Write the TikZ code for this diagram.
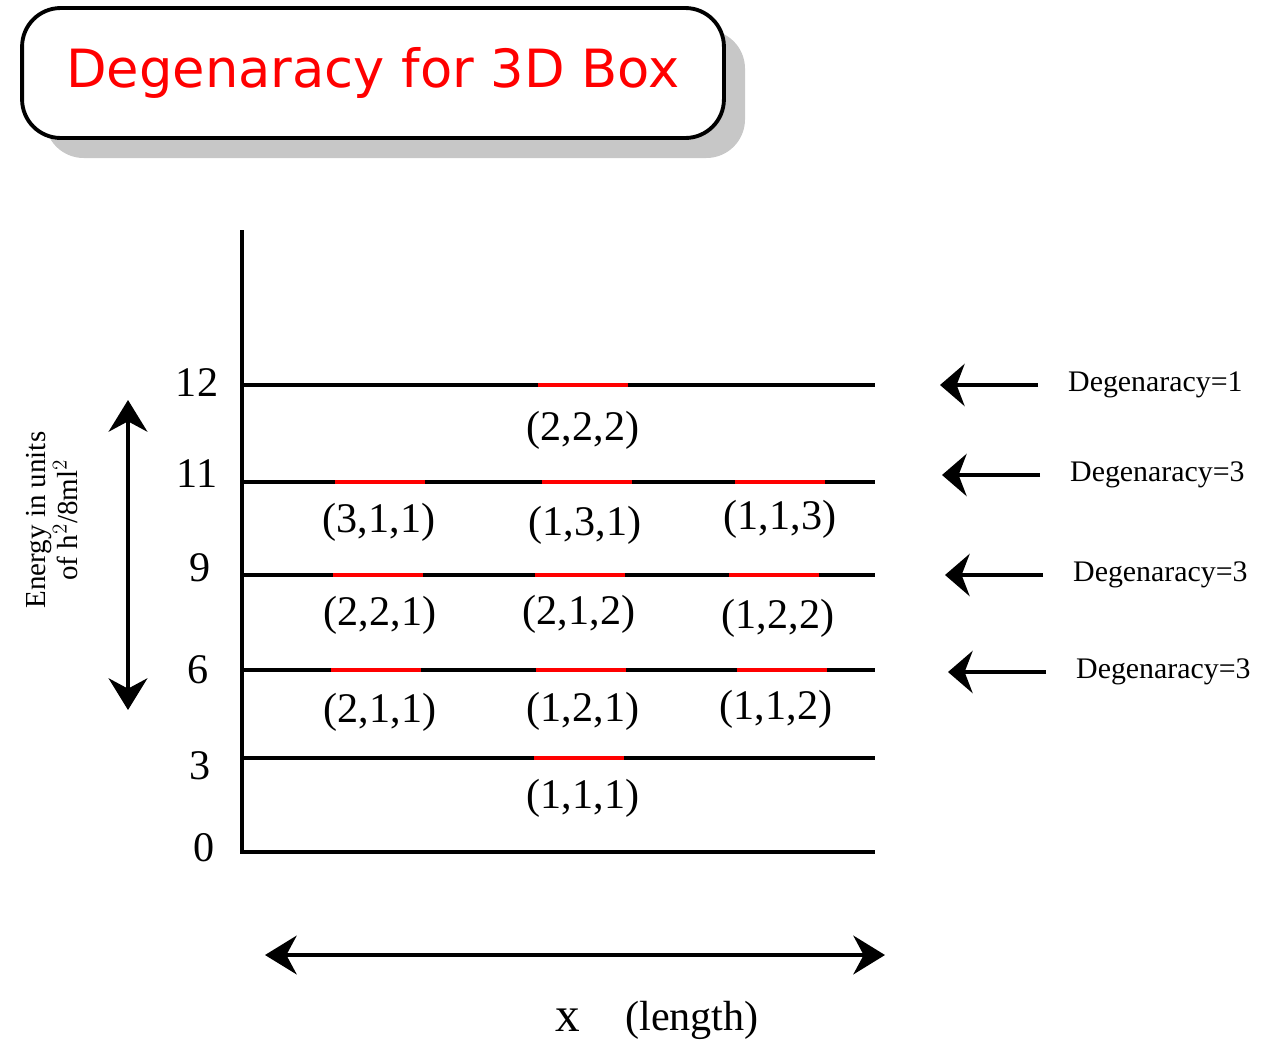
\documentclass[tikz,border=0pt]{standalone}
\usepackage{fontspec}
\setmainfont{Liberation Serif}
\newfontfamily\titlefont{DejaVu Sans}
\usetikzlibrary{arrows.meta,positioning}

\tikzset{
  level/.style={line width=2.2pt},
  redpart/.style={line width=2.8pt,red},
  state/.style={font=\fontsize{24}{26}\selectfont},
  valuelbl/.style={font=\fontsize{24}{26}\selectfont},
  deglbl/.style={font=\fontsize{17}{19}\selectfont,anchor=west},
  bigarrow/.style={line width=2.4pt,{Stealth[length=18pt,width=22pt]}-{Stealth[length=18pt,width=22pt]}},
  degarrow/.style={line width=2.4pt,-{Stealth[length=14pt,width=24pt]}}
}

\begin{document}
\begin{tikzpicture}[x=0.02cm,y=-0.02cm]
\useasboundingbox (0,0) rectangle (1280,1062);

% title
\fill[black!22,rounded corners=22pt] (45,30) rectangle (745,158);
\node[draw,line width=2.2pt,fill=white,rounded corners=22pt,minimum width=14.04cm,minimum height=2.6cm,
  text=red,font=\titlefont\fontsize{30}{34}\selectfont] (title) at (373,73) {Degenaracy for 3D Box};

% axes
\coordinate (top) at (242,230);
\coordinate (origin) at (242,852);
\coordinate (xend) at (875,852);
\draw[level] (top) -- (origin) -- (xend);

% levels
\foreach \y/\v in {385/12,482/11,575/9,670/6,758/3}{
  \coordinate (l\v) at (242,\y);
  \coordinate (r\v) at (875,\y);
  \draw[level] (l\v) -- (r\v);
}
\foreach \a/\b/\y in {538/628/385, 335/425/482, 542/632/482, 735/825/482,
  333/423/575, 535/625/575, 729/819/575, 331/421/670, 536/626/670, 737/827/670, 534/624/758}
  \draw[redpart] (\a,\y) -- (\b,\y);

% value labels
\node[valuelbl] (v12) at (197,383) {12};
\node[valuelbl] (v11) at (197,474) {11};
\node[valuelbl] (v9) at (200,568) {9};
\node[valuelbl] (v6) at (198,670) {6};
\node[valuelbl] (v3) at (200,766) {3};
\node[valuelbl] (v0) at (204,848) {0};

% states
\node[state] (s222) at (583,430) {(2,2,2)};
\node[state] (s311) at (379,522) {(3,1,1)};
\node[state] (s131) at (585,525) {(1,3,1)};
\node[state] (s113) at (780,519) {(1,1,3)};
\node[state] (s221) at (380,615) {(2,2,1)};
\node[state] (s212) at (579,614) {(2,1,2)};
\node[state] (s122) at (778,618) {(1,2,2)};
\node[state] (s211) at (380,712) {(2,1,1)};
\node[state] (s121) at (583,711) {(1,2,1)};
\node[state] (s112) at (776,709) {(1,1,2)};
\node[state] (s111) at (583,798) {(1,1,1)};

% energy axis
\coordinate (eup) at (128,400);
\coordinate (edown) at (128,710);
\draw[bigarrow] (eup) -- (edown);
\node[rotate=90,align=center,font=\fontsize{16.5}{18.5}\selectfont] (elbl) at (52,520)
  {Energy in units\\of h$^2$/8ml$^2$};

% length axis
\coordinate (xleft) at (265,955);
\coordinate (xright) at (885,955);
\draw[bigarrow] (xleft) -- (xright);
\node[font=\fontsize{28}{30}\selectfont] (xlbl) at (568,1020) {x};
\node[font=\fontsize{24}{26}\selectfont] (lenlbl) at (692,1020) {(length)};

% degeneracy
\foreach \y/\d/\s in {385/1/0, 475/3/2, 575/3/5, 672/3/8}{
  \node[deglbl] (d\y) at (1062+\s,\y) {Degenaracy=\d};
  \coordinate (as\y) at (1038+\s,\y);
  \coordinate (ae\y) at (940+\s,\y);
  \draw[degarrow] (as\y) -- (ae\y);
}
\end{tikzpicture}
\end{document}
